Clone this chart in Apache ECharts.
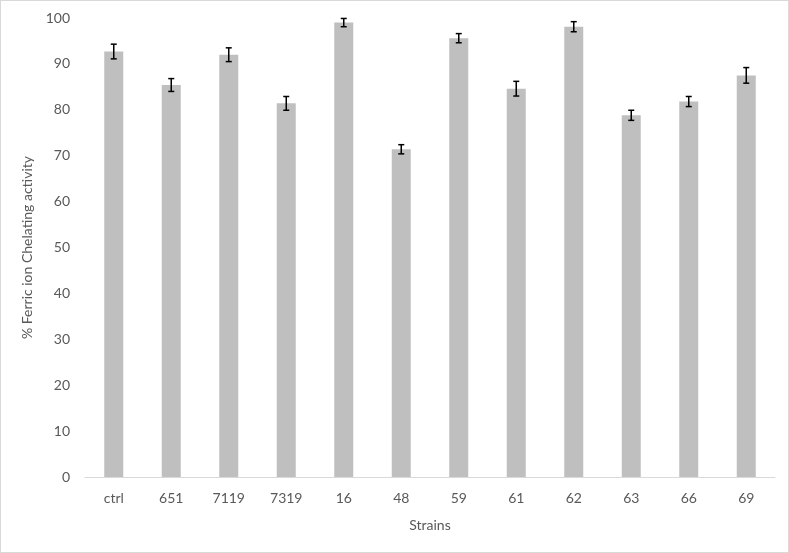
<!DOCTYPE html>
<html>
<head>
<meta charset="utf-8">
<script src="https://cdn.jsdelivr.net/npm/echarts@6/dist/echarts.min.js"></script>
<style>
  html, body { margin: 0; padding: 0; background: #fff; }
  #chart { width: 789px; height: 553px; box-sizing: border-box; border: 1px solid #d9d9d9; }
</style>
</head>
<body>
<div id="chart"></div>
<script>
const strains = ['ctrl', '651', '7119', '7319', '16', '48', '59', '61', '62', '63', '66', '69']
const activity = [92.7, 85.4, 92.0, 81.4, 99.0, 71.4, 95.6, 84.6, 98.1, 78.8, 81.8, 87.5]
const errors = [1.6, 1.4, 1.5, 1.5, 0.9, 1.0, 1.0, 1.6, 1.1, 1.1, 1.1, 1.7]

const errorData = strains.map((s, i) => [i, activity[i] - errors[i], activity[i] + errors[i]])

const chart = echarts.init(document.getElementById('chart'))
chart.setOption({
  animation: false,
  textStyle: { fontFamily: 'Lato', color: '#595959' },
  grid: { left: 84, right: 13, top: 17, bottom: 75 },
  xAxis: {
    type: 'category',
    data: strains,
    name: 'Strains',
    nameLocation: 'middle',
    nameGap: 41,
    nameTextStyle: { fontSize: 14, color: '#595959' },
    axisLine: { lineStyle: { color: '#d9d9d9', width: 1 } },
    axisTick: { show: false },
    axisLabel: { fontSize: 14, color: '#595959', margin: 14 }
  },
  yAxis: {
    type: 'value',
    min: 0,
    max: 100,
    interval: 10,
    name: '% Ferric ion Chelating activity',
    nameLocation: 'middle',
    nameGap: 51,
    nameTextStyle: { fontSize: 14, color: '#595959' },
    axisLine: { show: false },
    axisTick: { show: false },
    splitLine: { show: false },
    axisLabel: { fontSize: 14, color: '#595959', margin: 15 }
  },
  series: [
    {
      type: 'bar',
      data: activity,
      barWidth: 19,
      itemStyle: { color: '#bfbfbf' }
    },
    {
      type: 'custom',
      data: errorData,
      z: 10,
      renderItem: function (params, api) {
        const x = api.value(0)
        const lo = api.coord([x, api.value(1)])
        const hi = api.coord([x, api.value(2)])
        const w = 3
        const style = { stroke: '#000', lineWidth: 1.5 }
        return {
          type: 'group',
          children: [
            { type: 'line', shape: { x1: lo[0], y1: lo[1], x2: hi[0], y2: hi[1] }, style: style },
            { type: 'line', shape: { x1: lo[0] - w, y1: lo[1], x2: lo[0] + w, y2: lo[1] }, style: style },
            { type: 'line', shape: { x1: hi[0] - w, y1: hi[1], x2: hi[0] + w, y2: hi[1] }, style: style }
          ]
        }
      }
    }
  ]
})
</script>
</body>
</html>
